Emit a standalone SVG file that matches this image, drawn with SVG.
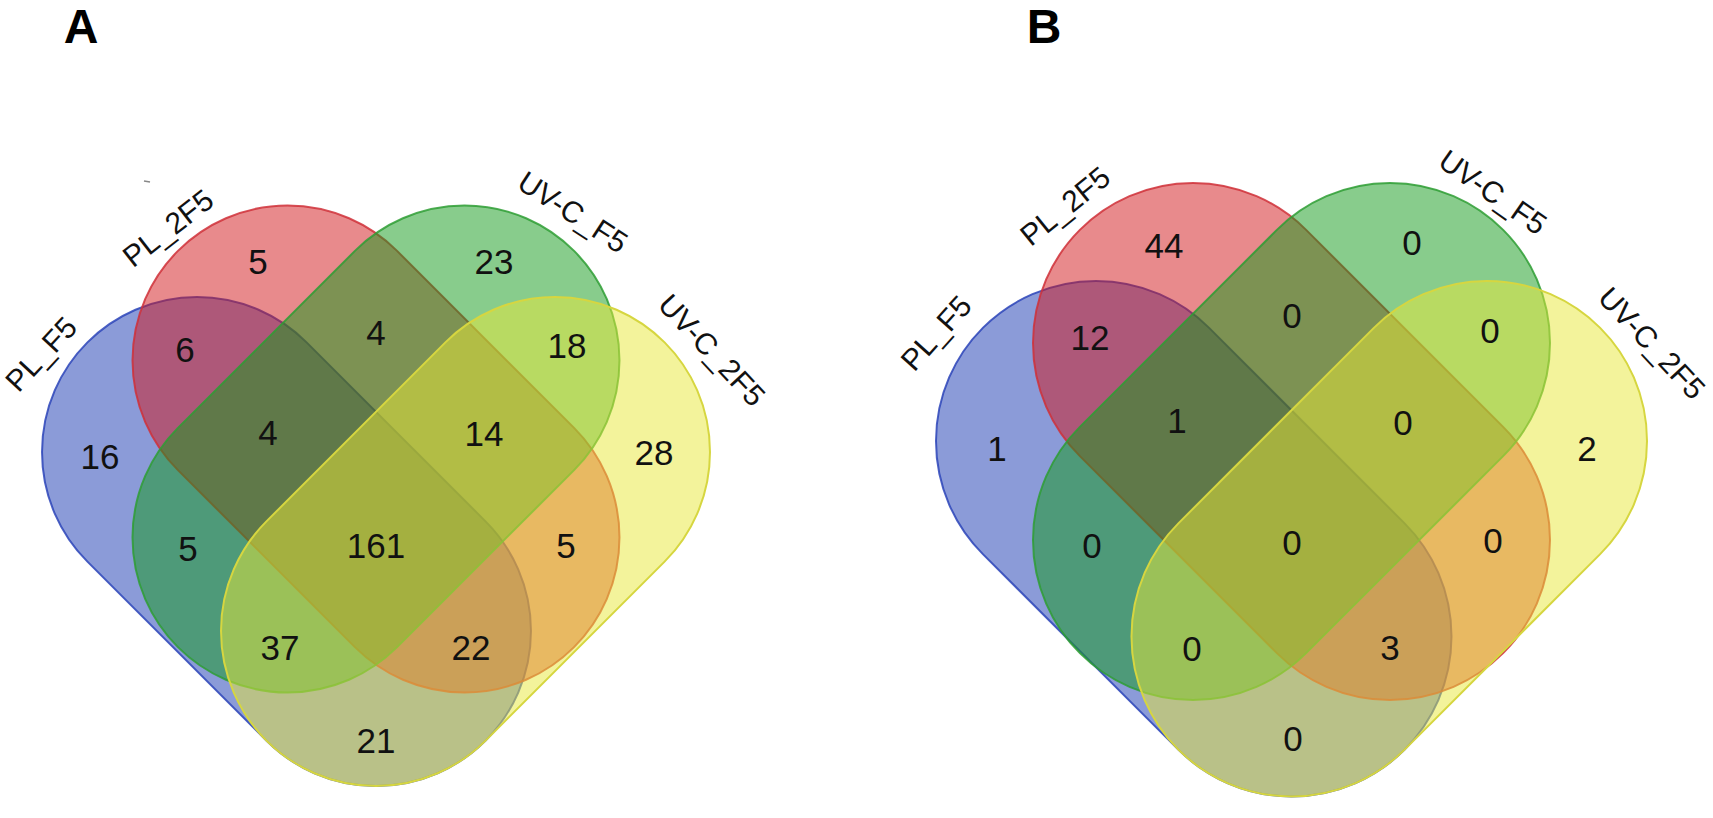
<svg xmlns="http://www.w3.org/2000/svg" width="1713" height="818" viewBox="0 0 1713 818">
<style>
.s{fill-opacity:0.5;stroke-width:2;stroke-opacity:0.85}
.blue{fill:#1737B1;stroke:#2B44B8}
.red{fill:#D11519;stroke:#CF3038}
.green{fill:#119919;stroke:#2E9E34}
.yellow{fill:#E7E737;stroke:#D6D640;stroke-opacity:1}
.n{font-family:"Liberation Sans",Arial,sans-serif;font-size:35px;fill:#111;text-anchor:middle}
.l{font-family:"Liberation Sans",Arial,sans-serif;font-size:30px;fill:#111;text-anchor:middle;dominant-baseline:central}
.p{font-family:"Liberation Sans",Arial,sans-serif;font-size:48px;font-weight:bold;fill:#000;text-anchor:middle}
</style>
<rect width="1713" height="818" fill="#fff"/>
<text class="p" x="81" y="43">A</text>
<text class="p" x="1044" y="43">B</text>

<!-- Panel A -->
<g id="A-PL_F5">
<rect class="s blue" x="4.95" y="386.5" width="563.1" height="310" rx="155" transform="rotate(45 286.5 541.5)"/>
<text class="l" transform="translate(41 354) rotate(-47)">PL_F5</text>
</g>
<g id="A-PL_2F5">
<rect class="s red" x="95.85" y="294" width="560.3" height="310" rx="155" transform="rotate(45 376 449)"/>
<text class="l" transform="translate(168 228) rotate(-38)">PL_2F5</text>
</g>
<g id="A-UV-C_F5">
<rect class="s green" x="95.85" y="294" width="560.3" height="310" rx="155" transform="rotate(-45 376 449)"/>
<text class="l" transform="translate(573 212) rotate(33)">UV-C_F5</text>
</g>
<g id="A-UV-C_2F5">
<rect class="s yellow" x="183.95" y="386.5" width="563.1" height="310" rx="155" transform="rotate(-45 465.5 541.5)"/>
<text class="l" transform="translate(712 350) rotate(47)">UV-C_2F5</text>
</g>
<line x1="144" y1="181" x2="150" y2="182" stroke="#888" stroke-width="1.5"/>
<g id="A-counts">
<text class="n" x="258" y="274">5</text>
<text class="n" x="494" y="274">23</text>
<text class="n" x="185" y="362">6</text>
<text class="n" x="376" y="345">4</text>
<text class="n" x="567" y="358">18</text>
<text class="n" x="100" y="469">16</text>
<text class="n" x="268" y="445">4</text>
<text class="n" x="484" y="446">14</text>
<text class="n" x="654" y="465">28</text>
<text class="n" x="188" y="561">5</text>
<text class="n" x="376" y="558">161</text>
<text class="n" x="566" y="558">5</text>
<text class="n" x="280" y="660">37</text>
<text class="n" x="471" y="660">22</text>
<text class="n" x="376" y="753">21</text>
</g>

<!-- Panel B -->
<g id="B-PL_F5">
<rect class="s blue" x="895.5" y="378.75" width="596.5" height="320" rx="160" transform="rotate(45 1193.75 538.75)"/>
<text class="l" transform="translate(936 333) rotate(-48)">PL_F5</text>
</g>
<g id="B-PL_2F5">
<rect class="s red" x="992.2" y="281.5" width="598.6" height="320" rx="160" transform="rotate(45 1291.5 441.5)"/>
<text class="l" transform="translate(1065 206) rotate(-39)">PL_2F5</text>
</g>
<g id="B-UV-C_F5">
<rect class="s green" x="992.2" y="281.5" width="598.6" height="320" rx="160" transform="rotate(-45 1291.5 441.5)"/>
<text class="l" transform="translate(1493 192) rotate(35)">UV-C_F5</text>
</g>
<g id="B-UV-C_2F5">
<rect class="s yellow" x="1091" y="378.75" width="596.5" height="320" rx="160" transform="rotate(-45 1389.25 538.75)"/>
<text class="l" transform="translate(1652 343) rotate(47)">UV-C_2F5</text>
</g>
<g id="B-counts">
<text class="n" x="1164" y="258">44</text>
<text class="n" x="1412" y="255">0</text>
<text class="n" x="1090" y="350">12</text>
<text class="n" x="1292" y="328">0</text>
<text class="n" x="1490" y="343">0</text>
<text class="n" x="997" y="461">1</text>
<text class="n" x="1177" y="433">1</text>
<text class="n" x="1403" y="435">0</text>
<text class="n" x="1587" y="461">2</text>
<text class="n" x="1092" y="558">0</text>
<text class="n" x="1292" y="555">0</text>
<text class="n" x="1493" y="553">0</text>
<text class="n" x="1192" y="661">0</text>
<text class="n" x="1390" y="660">3</text>
<text class="n" x="1293" y="751">0</text>
</g>
</svg>
